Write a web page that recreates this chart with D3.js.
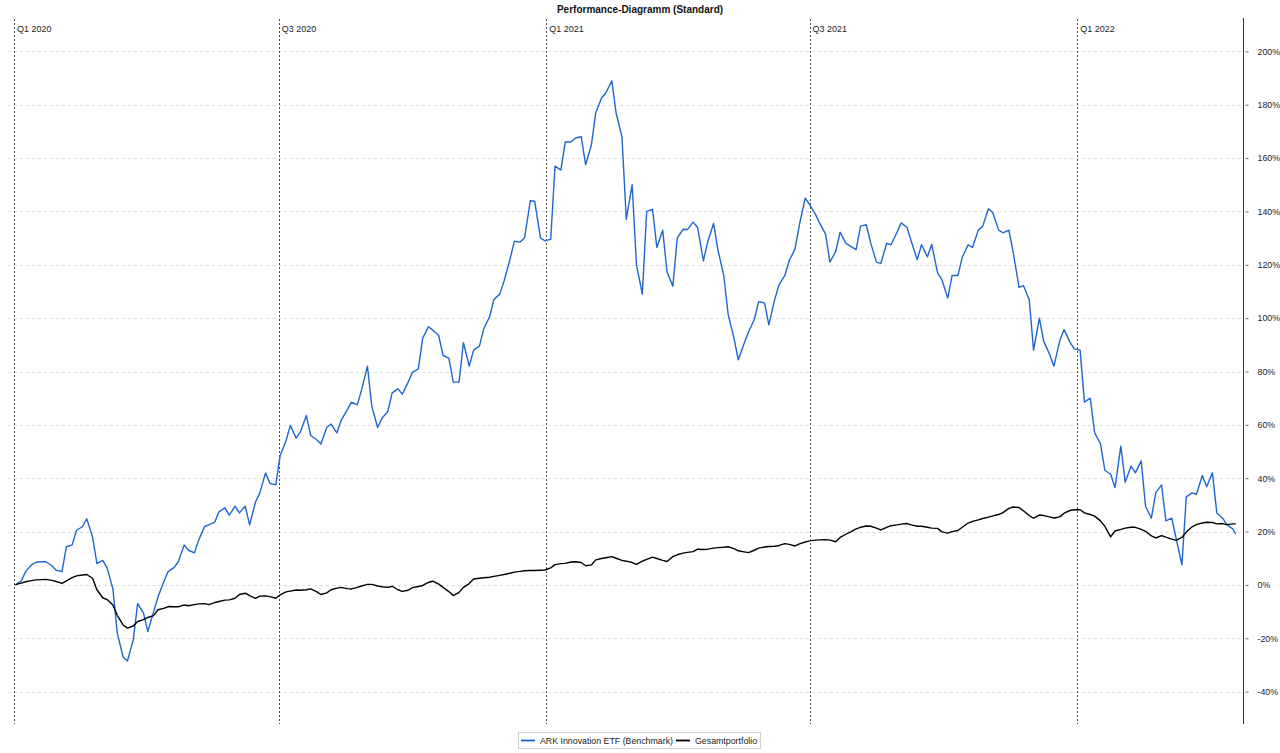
<!DOCTYPE html>
<html>
<head>
<meta charset="utf-8">
<script src="https://cdn.jsdelivr.net/npm/d3@7"></script>
<style>
  html, body { margin: 0; padding: 0; background: #fff; }
  svg { display: block; font-family: "Liberation Sans", Arial, Helvetica, sans-serif; }
</style>
</head>
<body>
<svg id="chart" width="1280" height="753"></svg>
<script>
// ---------------- DATA ----------------
const title = "Performance-Diagramm (Standard)";
const seriesNames = ["ARK Innovation ETF (Benchmark)", "Gesamtportfolio"];
const quarterLabels = ["Q1 2020", "Q3 2020", "Q1 2021", "Q3 2021", "Q1 2022"];
const quarterDates = ["2020-01-01", "2020-07-01", "2021-01-01", "2021-07-01", "2022-01-01"];
const yTicks = [-40, -20, 0, 20, 40, 60, 80, 100, 120, 140, 160, 180, 200];
const xDomain = ["2020-01-01", "2022-04-25"];

const dates = [
  "2020-01-02","2020-01-06","2020-01-09","2020-01-13","2020-01-16","2020-01-20","2020-01-23","2020-01-27",
  "2020-01-30","2020-02-03","2020-02-06","2020-02-10","2020-02-13","2020-02-17","2020-02-20","2020-02-24",
  "2020-02-27","2020-03-02","2020-03-05","2020-03-09","2020-03-12","2020-03-16","2020-03-19","2020-03-23",
  "2020-03-26","2020-03-30","2020-04-02","2020-04-06","2020-04-09","2020-04-13","2020-04-16","2020-04-20",
  "2020-04-23","2020-04-27","2020-04-30","2020-05-04","2020-05-07","2020-05-11","2020-05-14","2020-05-18",
  "2020-05-21","2020-05-25","2020-05-28","2020-06-01","2020-06-04","2020-06-08","2020-06-11","2020-06-15",
  "2020-06-18","2020-06-22","2020-06-25","2020-06-29","2020-07-02","2020-07-06","2020-07-09","2020-07-13",
  "2020-07-16","2020-07-20","2020-07-23","2020-07-27","2020-07-30","2020-08-03","2020-08-06","2020-08-10",
  "2020-08-13","2020-08-17","2020-08-20","2020-08-24","2020-08-27","2020-08-31","2020-09-03","2020-09-07",
  "2020-09-10","2020-09-14","2020-09-17","2020-09-21","2020-09-24","2020-09-28","2020-10-01","2020-10-05",
  "2020-10-08","2020-10-12","2020-10-15","2020-10-19","2020-10-22","2020-10-26","2020-10-29","2020-11-02",
  "2020-11-05","2020-11-09","2020-11-12","2020-11-16","2020-11-19","2020-11-23","2020-11-26","2020-11-30",
  "2020-12-03","2020-12-07","2020-12-10","2020-12-14","2020-12-17","2020-12-21","2020-12-24","2020-12-28",
  "2020-12-31","2021-01-04",
  "2021-01-07","2021-01-11","2021-01-14","2021-01-18","2021-01-21","2021-01-25","2021-01-28","2021-02-01",
  "2021-02-04","2021-02-08","2021-02-11","2021-02-15","2021-02-18","2021-02-22","2021-02-25","2021-03-01",
  "2021-03-04","2021-03-08","2021-03-11","2021-03-15","2021-03-18","2021-03-22","2021-03-25","2021-03-29",
  "2021-04-01","2021-04-05","2021-04-08","2021-04-12","2021-04-15","2021-04-19","2021-04-22","2021-04-26",
  "2021-04-29","2021-05-03","2021-05-06","2021-05-10","2021-05-13","2021-05-17","2021-05-20","2021-05-24",
  "2021-05-27","2021-05-31","2021-06-03","2021-06-07","2021-06-10","2021-06-14","2021-06-17","2021-06-21",
  "2021-06-24","2021-06-28","2021-07-01","2021-07-05","2021-07-08","2021-07-12","2021-07-15","2021-07-19",
  "2021-07-22","2021-07-26","2021-07-29","2021-08-02","2021-08-05","2021-08-09","2021-08-12","2021-08-16",
  "2021-08-19","2021-08-23","2021-08-26","2021-08-30","2021-09-02","2021-09-06","2021-09-09","2021-09-13",
  "2021-09-16","2021-09-20","2021-09-23","2021-09-27","2021-09-30","2021-10-04","2021-10-07","2021-10-11",
  "2021-10-14","2021-10-18","2021-10-21","2021-10-25","2021-10-28","2021-11-01","2021-11-04","2021-11-08",
  "2021-11-11","2021-11-15","2021-11-18","2021-11-22","2021-11-25","2021-11-29","2021-12-02","2021-12-06",
  "2021-12-09","2021-12-13","2021-12-16","2021-12-20","2021-12-23","2021-12-27","2021-12-30","2022-01-03",
  "2022-01-06","2022-01-10","2022-01-13","2022-01-17","2022-01-20","2022-01-24","2022-01-27","2022-01-31",
  "2022-02-03","2022-02-07","2022-02-10","2022-02-14","2022-02-17","2022-02-21","2022-02-24","2022-02-28",
  "2022-03-03","2022-03-07","2022-03-10","2022-03-14","2022-03-17","2022-03-21","2022-03-24","2022-03-28",
  "2022-03-31","2022-04-04","2022-04-07","2022-04-11","2022-04-14","2022-04-18","2022-04-20"
];

// ARK Innovation ETF (Benchmark), performance in %
const arkValues = [
  0, 1.5, 5, 7.5, 8.5, 8.7, 8.7, 7.2, 5.5, 5, 14.3, 15, 20.5, 21.8, 24.8, 18,
  8, 9.2, 6.4, -1.5, -18, -27, -28.5, -20.6, -7, -10.5, -17.5, -10, -4.5, 1.2, 5, 6.5,
  8.7, 15, 13, 12, 16.8, 21.9, 22.5, 23.5, 27.5, 28.9, 26.2, 29.5, 27, 29.5, 22.5, 31,
  34.5, 42, 38, 37.5, 48.5, 54, 59.8, 55, 57.5, 63.5, 56, 54.5, 52.8, 59, 60.3, 57,
  61.8, 65.5, 68.5, 67.5, 73.1, 82, 67, 59, 62.5, 65, 72, 73.5, 71.5, 76, 79.7, 81,
  92.5, 96.8, 95.5, 93.5, 86, 85, 76, 76, 90.8, 82, 88, 89.5, 96, 100.5, 107, 109,
  114, 122, 128.8, 128.5, 130, 144, 143.8, 130, 129, 129.5,
  157, 155.5, 166, 166, 167.5, 168, 157.5, 165, 177, 182.5, 184.5, 189, 176.8, 168, 137, 150,
  120, 109, 140, 140.8, 126.5, 133, 117.3, 112, 130, 133.3, 133.2, 136, 134, 121.5, 128.7, 135.5,
  125.5, 116, 101.5, 92.5, 84.4, 90.5, 94.8, 99.5, 106.2, 105.7, 97.5, 107, 112.5, 116, 121.5, 126,
  135, 145, 142.6, 139, 135.5, 131.5, 121, 125, 132.2, 128, 127, 125.7, 134.5, 135, 128.2, 121,
  120.5, 128, 127.5, 132, 135.7, 134, 128.6, 122, 127.5, 123, 127.6, 117, 114.4, 107.5, 116, 116,
  122.8, 127.5, 126.5, 133, 134.4, 141, 139.5, 133, 132, 133, 124.7, 111.5, 112.2, 107, 88, 100,
  91.3, 86.5, 82, 91.5, 95.7, 91, 88.5, 88,
  68.5, 70, 57, 53, 43, 41.5, 36.5, 52, 38.5, 44.5, 42, 46.5, 29.5, 25, 34.5, 37.5,
  24, 25, 17.5, 7.5, 33, 34.5, 34, 41, 36.8, 42, 27, 25, 22.5, 21, 19.1
];

// Gesamtportfolio, performance in %
const portfolioValues = [
  0.1, 0.7, 1.2, 1.6, 1.9, 2.0, 2.1, 1.7, 1.3, 0.6, 1.5, 2.7, 3.4, 3.7, 3.9, 2.5,
  -1.8, -4.8, -5.5, -7.5, -11.4, -15, -16.2, -15.4, -13.7, -13, -12.2, -11.5, -9.3, -8.8, -8.1, -8.2,
  -8.2, -7.5, -7.8, -7.4, -7.1, -7, -7.4, -6.6, -6.2, -5.7, -5.6, -5, -3.6, -3.1, -4, -5,
  -4.2, -4.1, -4.4, -5, -3.7, -2.6, -2.3, -1.9, -2, -1.8, -1.5, -2.5, -3.6, -3, -1.8, -1.2,
  -0.9, -1.4, -1.5, -0.9, -0.4, 0.2, 0.2, -0.4, -0.7, -0.9, -0.5, -1.8, -2.4, -2, -1, -0.6,
  -0.2, 1, 1.4, 0.3, -0.9, -2.5, -4, -2.8, -0.9, 0.5, 2.2, 2.5, 2.7, 2.9, 3.2, 3.6,
  3.9, 4.4, 4.8, 5.1, 5.3, 5.4, 5.4, 5.5, 5.6, 6.4,
  7.6, 8, 8.1, 8.6, 8.7, 8.4, 7.2, 7.5, 9.4, 9.9, 10.2, 10.6, 10, 9.2, 8.9, 8.4,
  7.7, 8.9, 9.6, 10.4, 9.9, 9.2, 8.8, 10.6, 11.3, 11.9, 12.2, 12.5, 13.4, 13.3, 13.4, 13.8,
  14, 14.1, 14.3, 13.6, 12.8, 12.4, 12.1, 13, 13.8, 14.2, 14.4, 14.5, 14.8, 15.5, 15.2, 14.6,
  15.4, 16.1, 16.5, 16.8, 16.9, 17, 16.8, 16.2, 17.8, 19, 19.8, 21, 21.6, 22.1, 22, 21.3,
  20.6, 21.6, 22.2, 22.5, 22.8, 23, 22.5, 22, 22, 21.6, 21.3, 21.2, 19.9, 19.4, 20, 20.4,
  21.6, 23.2, 23.8, 24.4, 24.9, 25.4, 25.9, 26.4, 27.1, 28.7, 29.2, 29, 27.8, 26, 25, 26.2,
  26, 25.5, 25.1, 25.5, 26.9, 27.9, 28.2, 28.2,
  27, 26.4, 25.8, 24, 22, 18, 20.2, 20.8, 21.3, 21.6, 21.6, 20.8, 20.1, 18.4, 17.6, 18.5,
  17.9, 17.2, 16.7, 17.8, 19.8, 21.8, 22.6, 23.2, 23.5, 23.4, 22.9, 23, 22.6, 22.9, 22.9
];

const seriesColors = ["#1f66d1", "#000000"];

// ---------------- CHART ----------------
const parse = d3.utcParse("%Y-%m-%d");
const svg = d3.select("#chart");

const plotLeft = 14, plotRight = 1243, plotTop = 18, plotBottom = 725;

const x = d3.scaleUtc()
  .domain(xDomain.map(parse))
  .range([plotLeft, plotRight]);

const y = d3.scaleLinear()
  .domain([-52.5, 212.5])
  .range([plotBottom, plotTop]);

// Horizontal grid lines
svg.append("g")
  .selectAll("line")
  .data(yTicks)
  .join("line")
  .attr("x1", 8)
  .attr("x2", plotRight - 1)
  .attr("y1", d => Math.round(y(d)) + 0.5)
  .attr("y2", d => Math.round(y(d)) + 0.5)
  .attr("stroke", "#dcdcdc")
  .attr("stroke-width", 1)
  .attr("stroke-dasharray", "3,3");

// Quarter lines + labels
const qg = svg.append("g");
qg.selectAll("line")
  .data(quarterDates)
  .join("line")
  .attr("x1", d => Math.round(x(parse(d))) + 0.5)
  .attr("x2", d => Math.round(x(parse(d))) + 0.5)
  .attr("y1", 19)
  .attr("y2", plotBottom - 1)
  .attr("stroke", "#4a4a4a")
  .attr("stroke-width", 1)
  .attr("stroke-dasharray", "2,2");
qg.selectAll("text")
  .data(quarterLabels)
  .join("text")
  .attr("x", (d, i) => x(parse(quarterDates[i])) + 3)
  .attr("y", 31.5)
  .attr("font-size", 9)
  .attr("fill", "#222")
  .text(d => d);

// Right axis
const yAxis = d3.axisRight(y)
  .tickValues(yTicks)
  .tickSize(3)
  .tickPadding(11)
  .tickFormat(d => d + "%");
const ax = svg.append("g")
  .attr("transform", `translate(${plotRight + 0.5},0)`)
  .call(yAxis);
ax.select(".domain").remove();
ax.append("line")
  .attr("x1", 0).attr("x2", 0)
  .attr("y1", plotTop).attr("y2", plotBottom - 1)
  .attr("stroke", "#333").attr("stroke-width", 1);
ax.selectAll(".tick line").attr("stroke", "#666").attr("x1", 2).attr("x2", 5);
ax.selectAll(".tick text")
  .attr("font-size", 8.8)
  .attr("fill", "#222")
  .attr("font-family", "'Liberation Sans', Arial, sans-serif");

// Lines
const parsedDates = dates.map(parse);
const line = d3.line()
  .x((d, i) => x(parsedDates[i]))
  .y(d => y(d))
  .curve(d3.curveLinear);

svg.append("path")
  .datum(arkValues)
  .attr("fill", "none")
  .attr("stroke", seriesColors[0])
  .attr("stroke-width", 1.4)
  .attr("stroke-linejoin", "round")
  .attr("d", line);

svg.append("path")
  .datum(portfolioValues)
  .attr("fill", "none")
  .attr("stroke", seriesColors[1])
  .attr("stroke-width", 1.4)
  .attr("stroke-linejoin", "round")
  .attr("d", line);

// Title
svg.append("text")
  .attr("x", 640)
  .attr("y", 13)
  .attr("text-anchor", "middle")
  .attr("font-size", 10)
  .attr("font-weight", "bold")
  .attr("fill", "#111")
  .text(title);

// Legend
const lg = svg.append("g");
lg.append("rect")
  .attr("x", 518.5).attr("y", 732.5)
  .attr("width", 242).attr("height", 16)
  .attr("fill", "#fff")
  .attr("stroke", "#cfcfcf")
  .attr("stroke-width", 1);
const legendItems = [
  { x: 521, tx: 540, name: seriesNames[0], color: seriesColors[0] },
  { x: 676, tx: 695, name: seriesNames[1], color: seriesColors[1] }
];
legendItems.forEach(it => {
  lg.append("line")
    .attr("x1", it.x).attr("x2", it.x + 14)
    .attr("y1", 740.5).attr("y2", 740.5)
    .attr("stroke", it.color).attr("stroke-width", 1.8);
  lg.append("text")
    .attr("x", it.tx).attr("y", 744)
    .attr("font-size", 8.8)
    .attr("fill", "#222")
    .text(it.name);
});
</script>
</body>
</html>
